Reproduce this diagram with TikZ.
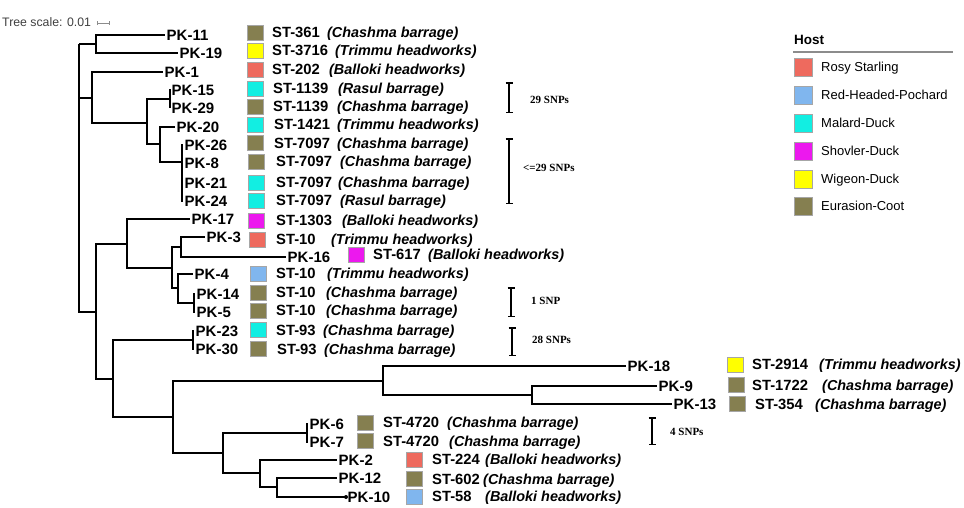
\documentclass[tikz,border=0pt]{standalone}
\usepackage{fontspec}
\setmainfont{Liberation Sans}
\newfontfamily\snpfont{Liberation Serif}
\usetikzlibrary{arrows.meta}
\definecolor{cRosy}{RGB}{238,106,94}
\definecolor{cRHP}{RGB}{128,182,238}
\definecolor{cMalard}{RGB}{18,238,226}
\definecolor{cShov}{RGB}{236,24,238}
\definecolor{cYellow}{RGB}{255,255,0}
\definecolor{cOlive}{RGB}{133,127,80}
\begin{document}
\begin{tikzpicture}[x=1pt,y=-1pt,
  br/.style={line width=1.8pt, line join=miter},
  pk/.style={anchor=west, inner sep=0pt, xshift=1.5pt, font=\bfseries\fontsize{15}{18}\selectfont},
  sttext/.style={anchor=base west, inner sep=0pt, font=\bfseries\fontsize{14.8}{17}\selectfont},
  loctext/.style={anchor=base west, inner sep=0pt, font=\bfseries\itshape\fontsize{14.4}{17}\selectfont},
  sqbox/.style={anchor=west, inner sep=0pt, minimum width=15.5pt, minimum height=15pt, draw=black!35, line width=0.5pt},
  legbox/.style={anchor=west, inner sep=0pt, minimum width=18pt, minimum height=18pt, draw=black!35, line width=0.5pt},
  legtext/.style={anchor=base west, inner sep=0pt, font=\fontsize{13}{15}\selectfont},
  snpbar/.style={line width=1.5pt, {Bar[width=7pt]}-{Bar[width=7pt]}},
  snptext/.style={anchor=west, inner sep=0pt, font=\snpfont\bfseries\fontsize{11}{13}\selectfont}]
\useasboundingbox (0,0) rectangle (964,507);

% ---------- tree coordinates ----------
\coordinate (root) at (79,44);
\coordinate (c1) at (96,44);
\coordinate (l11) at (165,35);
\coordinate (l19) at (178,53);
\coordinate (c2) at (92,98);
\coordinate (l1) at (163,72);
\coordinate (c3) at (147,123);
\coordinate (c4) at (170,99);
\coordinate (l15) at (170,89);
\coordinate (l29) at (170,108);
\coordinate (c5) at (160,144);
\coordinate (l20) at (175,127);
\coordinate (c6) at (182,162);
\coordinate (l26) at (182,144);
\coordinate (l8) at (182,163);
\coordinate (l21) at (182,183);
\coordinate (l24) at (182,202);
\coordinate (c7) at (96,312);
\coordinate (c8) at (127,244);
\coordinate (l17) at (190,219);
\coordinate (c9) at (172,268);
\coordinate (c10) at (181,247);
\coordinate (l3) at (205,237);
\coordinate (l16) at (286,257);
\coordinate (c11) at (178,288);
\coordinate (l4) at (193,274);
\coordinate (c12) at (194,303);
\coordinate (l14) at (194,293);
\coordinate (l5) at (194,313);
\coordinate (c13) at (113,379);
\coordinate (c14) at (193,340);
\coordinate (l23) at (193,330);
\coordinate (l30) at (193,350);
\coordinate (c15) at (173,417);
\coordinate (c16) at (383,381);
\coordinate (l18) at (626,366);
\coordinate (c17) at (532,395);
\coordinate (l9) at (657,386);
\coordinate (l13) at (672,404);
\coordinate (c18) at (223,453);
\coordinate (c19) at (307,433);
\coordinate (l6) at (307,423);
\coordinate (l7) at (307,443);
\coordinate (c20) at (260,473);
\coordinate (l2) at (337,460);
\coordinate (c21) at (277,487);
\coordinate (l12) at (337,478);
\coordinate (l10) at (346,497);

% ---------- branches ----------
\draw[br] (root) |- (c1);
\draw[br] (root) |- (c2);
\draw[br] (root) |- (c7);
\draw[br] (c1) |- (l11);
\draw[br] (c1) |- (l19);
\draw[br] (c2) |- (l1);
\draw[br] (c2) |- (c3);
\draw[br] (c3) |- (c4);
\draw[br] (c3) |- (c5);
\draw[br] (l15) -- (l29);
\draw[br] (c5) |- (l20);
\draw[br] (c5) |- (c6);
\draw[br] (l26) -- (l24);
\draw[br] (c7) |- (c8);
\draw[br] (c7) |- (c13);
\draw[br] (c8) |- (l17);
\draw[br] (c8) |- (c9);
\draw[br] (c9) |- (c10);
\draw[br] (c9) |- (c11);
\draw[br] (c10) |- (l3);
\draw[br] (c10) |- (l16);
\draw[br] (c11) |- (l4);
\draw[br] (c11) |- (c12);
\draw[br] (l14) -- (l5);
\draw[br] (c13) |- (c14);
\draw[br] (c13) |- (c15);
\draw[br] (l23) -- (l30);
\draw[br] (c15) |- (c16);
\draw[br] (c15) |- (c18);
\draw[br] (c16) |- (l18);
\draw[br] (c16) |- (c17);
\draw[br] (c17) |- (l9);
\draw[br] (c17) |- (l13);
\draw[br] (c18) |- (c19);
\draw[br] (c18) |- (c20);
\draw[br] (l6) -- (l7);
\draw[br] (c20) |- (l2);
\draw[br] (c20) |- (c21);
\draw[br] (c21) |- (l12);
\draw[br] (c21) |- (l10);
\fill (l10) circle (2pt);

% ---------- leaf labels ----------
\node[pk] (t11) at (l11) {PK-11};
\node[pk] (t19) at (l19) {PK-19};
\node[pk] (t1) at (l1) {PK-1};
\node[pk] (t15) at (170,90) {PK-15};
\node[pk] (t29) at (170,108) {PK-29};
\node[pk] (t20) at (l20) {PK-20};
\node[pk] (t26) at (183,145) {PK-26};
\node[pk] (t8) at (183,163) {PK-8};
\node[pk] (t21) at (183,183) {PK-21};
\node[pk] (t24) at (183,201) {PK-24};
\node[pk] (t17) at (l17) {PK-17};
\node[pk] (t3) at (l3) {PK-3};
\node[pk] (t16) at (l16) {PK-16};
\node[pk] (t4) at (l4) {PK-4};
\node[pk] (t14) at (195,294) {PK-14};
\node[pk] (t5) at (195,312) {PK-5};
\node[pk] (t23) at (194,331) {PK-23};
\node[pk] (t30) at (194,349) {PK-30};
\node[pk] (t18) at (l18) {PK-18};
\node[pk] (t9) at (l9) {PK-9};
\node[pk] (t13) at (l13) {PK-13};
\node[pk] (t6) at (308,424) {PK-6};
\node[pk] (t7) at (308,442) {PK-7};
\node[pk] (t2) at (l2) {PK-2};
\node[pk] (t12) at (l12) {PK-12};
\node[pk] (t10) at (l10) {PK-10};

% ---------- host squares, ST and location ----------
\foreach \n/\sx/\sy/\col/\st/\stx/\loc/\locx in {
 11/247/32.5/cOlive/ST-361/272/Chashma barrage/327,
 19/247/50.5/cYellow/ST-3716/272/Trimmu headworks/335,
 1/247/69.5/cRosy/ST-202/272/Balloki headworks/329,
 15/247/88.5/cMalard/ST-1139/273/Rasul barrage/338,
 29/247/106.5/cOlive/ST-1139/273/Chashma barrage/337,
 20/247/124.5/cMalard/ST-1421/274/Trimmu headworks/337,
 26/247/143/cOlive/ST-7097/274/Chashma barrage/337,
 8/248/161.5/cOlive/ST-7097/276/Chashma barrage/340,
 21/248/182.5/cMalard/ST-7097/276/Chashma barrage/338,
 24/248/200.5/cMalard/ST-7097/276/Rasul barrage/340,
 17/248/220.5/cShov/ST-1303/276/Balloki headworks/342,
 3/249/239.5/cRosy/ST-10/276/Trimmu headworks/331,
 16/348/254.5/cShov/ST-617/373/Balloki headworks/428,
 4/250/273.5/cRHP/ST-10/276/Trimmu headworks/327,
 14/250/292.5/cOlive/ST-10/276/Chashma barrage/326,
 5/250/310.5/cOlive/ST-10/276/Chashma barrage/326,
 23/250/330/cMalard/ST-93/276/Chashma barrage/323,
 30/250/349/cOlive/ST-93/277/Chashma barrage/324,
 18/727/364.5/cYellow/ST-2914/752/Trimmu headworks/819,
 9/728/385/cOlive/ST-1722/752/Chashma barrage/822,
 13/729/404/cOlive/ST-354/755/Chashma barrage/815,
 6/357/422.5/cOlive/ST-4720/383/Chashma barrage/447,
 7/357/441/cOlive/ST-4720/383/Chashma barrage/449,
 2/406/459.5/cRosy/ST-224/432/Balloki headworks/485,
 12/406/479/cOlive/ST-602/432/Chashma barrage/483,
 10/406/496.5/cRHP/ST-58/432/Balloki headworks/485}{
  \node[sqbox, fill=\col] (sq\n) at (\sx,\sy) {};
  \node[sttext] (st\n) at (\stx,\sy+5.3) {\st};
  \node[loctext] (loc\n) at (\locx,\sy+5.1) {(\loc)};
}

% ---------- SNP brackets ----------
\coordinate (b1a) at (509,82);  \coordinate (b1b) at (509,113);
\coordinate (b2a) at (509,138); \coordinate (b2b) at (509,204);
\coordinate (b3a) at (511,287); \coordinate (b3b) at (511,317);
\coordinate (b4a) at (512,327); \coordinate (b4b) at (512,356);
\coordinate (b5a) at (652,417); \coordinate (b5b) at (652,445);
\draw[snpbar] (b1a) -- (b1b);
\draw[snpbar] (b2a) -- (b2b);
\draw[snpbar] (b3a) -- (b3b);
\draw[snpbar] (b4a) -- (b4b);
\draw[snpbar] (b5a) -- (b5b);
\node[snptext] (s1) at (530,100) {29 SNPs};
\node[snptext] (s2) at (523,168) {<=29 SNPs};
\node[snptext] (s3) at (531,301) {1 SNP};
\node[snptext] (s4) at (532,340) {28 SNPs};
\node[snptext] (s5) at (670,432) {4 SNPs};

% ---------- tree scale ----------
\node[anchor=west, inner sep=0pt, text=black!75, font=\fontsize{12.3}{14}\selectfont] (ts) at (2,22) {Tree scale: 0.01};
\coordinate (sbl) at (97,23);
\coordinate (sbr) at (110,23);
\draw[black!45, line width=0.7pt, {Bar[width=4pt]}-{Bar[width=4pt]}] (sbl) -- (sbr);

% ---------- legend ----------
\node[anchor=west, inner sep=0pt, font=\bfseries\fontsize{13.5}{16}\selectfont] (host) at (794,40) {Host};
\coordinate (hl1) at (793,52);
\coordinate (hl2) at (953,52);
\draw[black!45, line width=1.2pt] (hl1) -- (hl2);
\foreach \i/\y/\col/\txt in {1/67/cRosy/Rosy Starling, 2/95/cRHP/Red-Headed-Pochard, 3/123/cMalard/Malard-Duck, 4/151/cShov/Shovler-Duck, 5/179/cYellow/Wigeon-Duck, 6/206/cOlive/Eurasion-Coot}{
  \node[legbox, fill=\col] (lb\i) at (794,\y) {};
  \node[legtext] (lt\i) at (821,\y+4.7) {\txt};
}
\end{tikzpicture}
\end{document}
